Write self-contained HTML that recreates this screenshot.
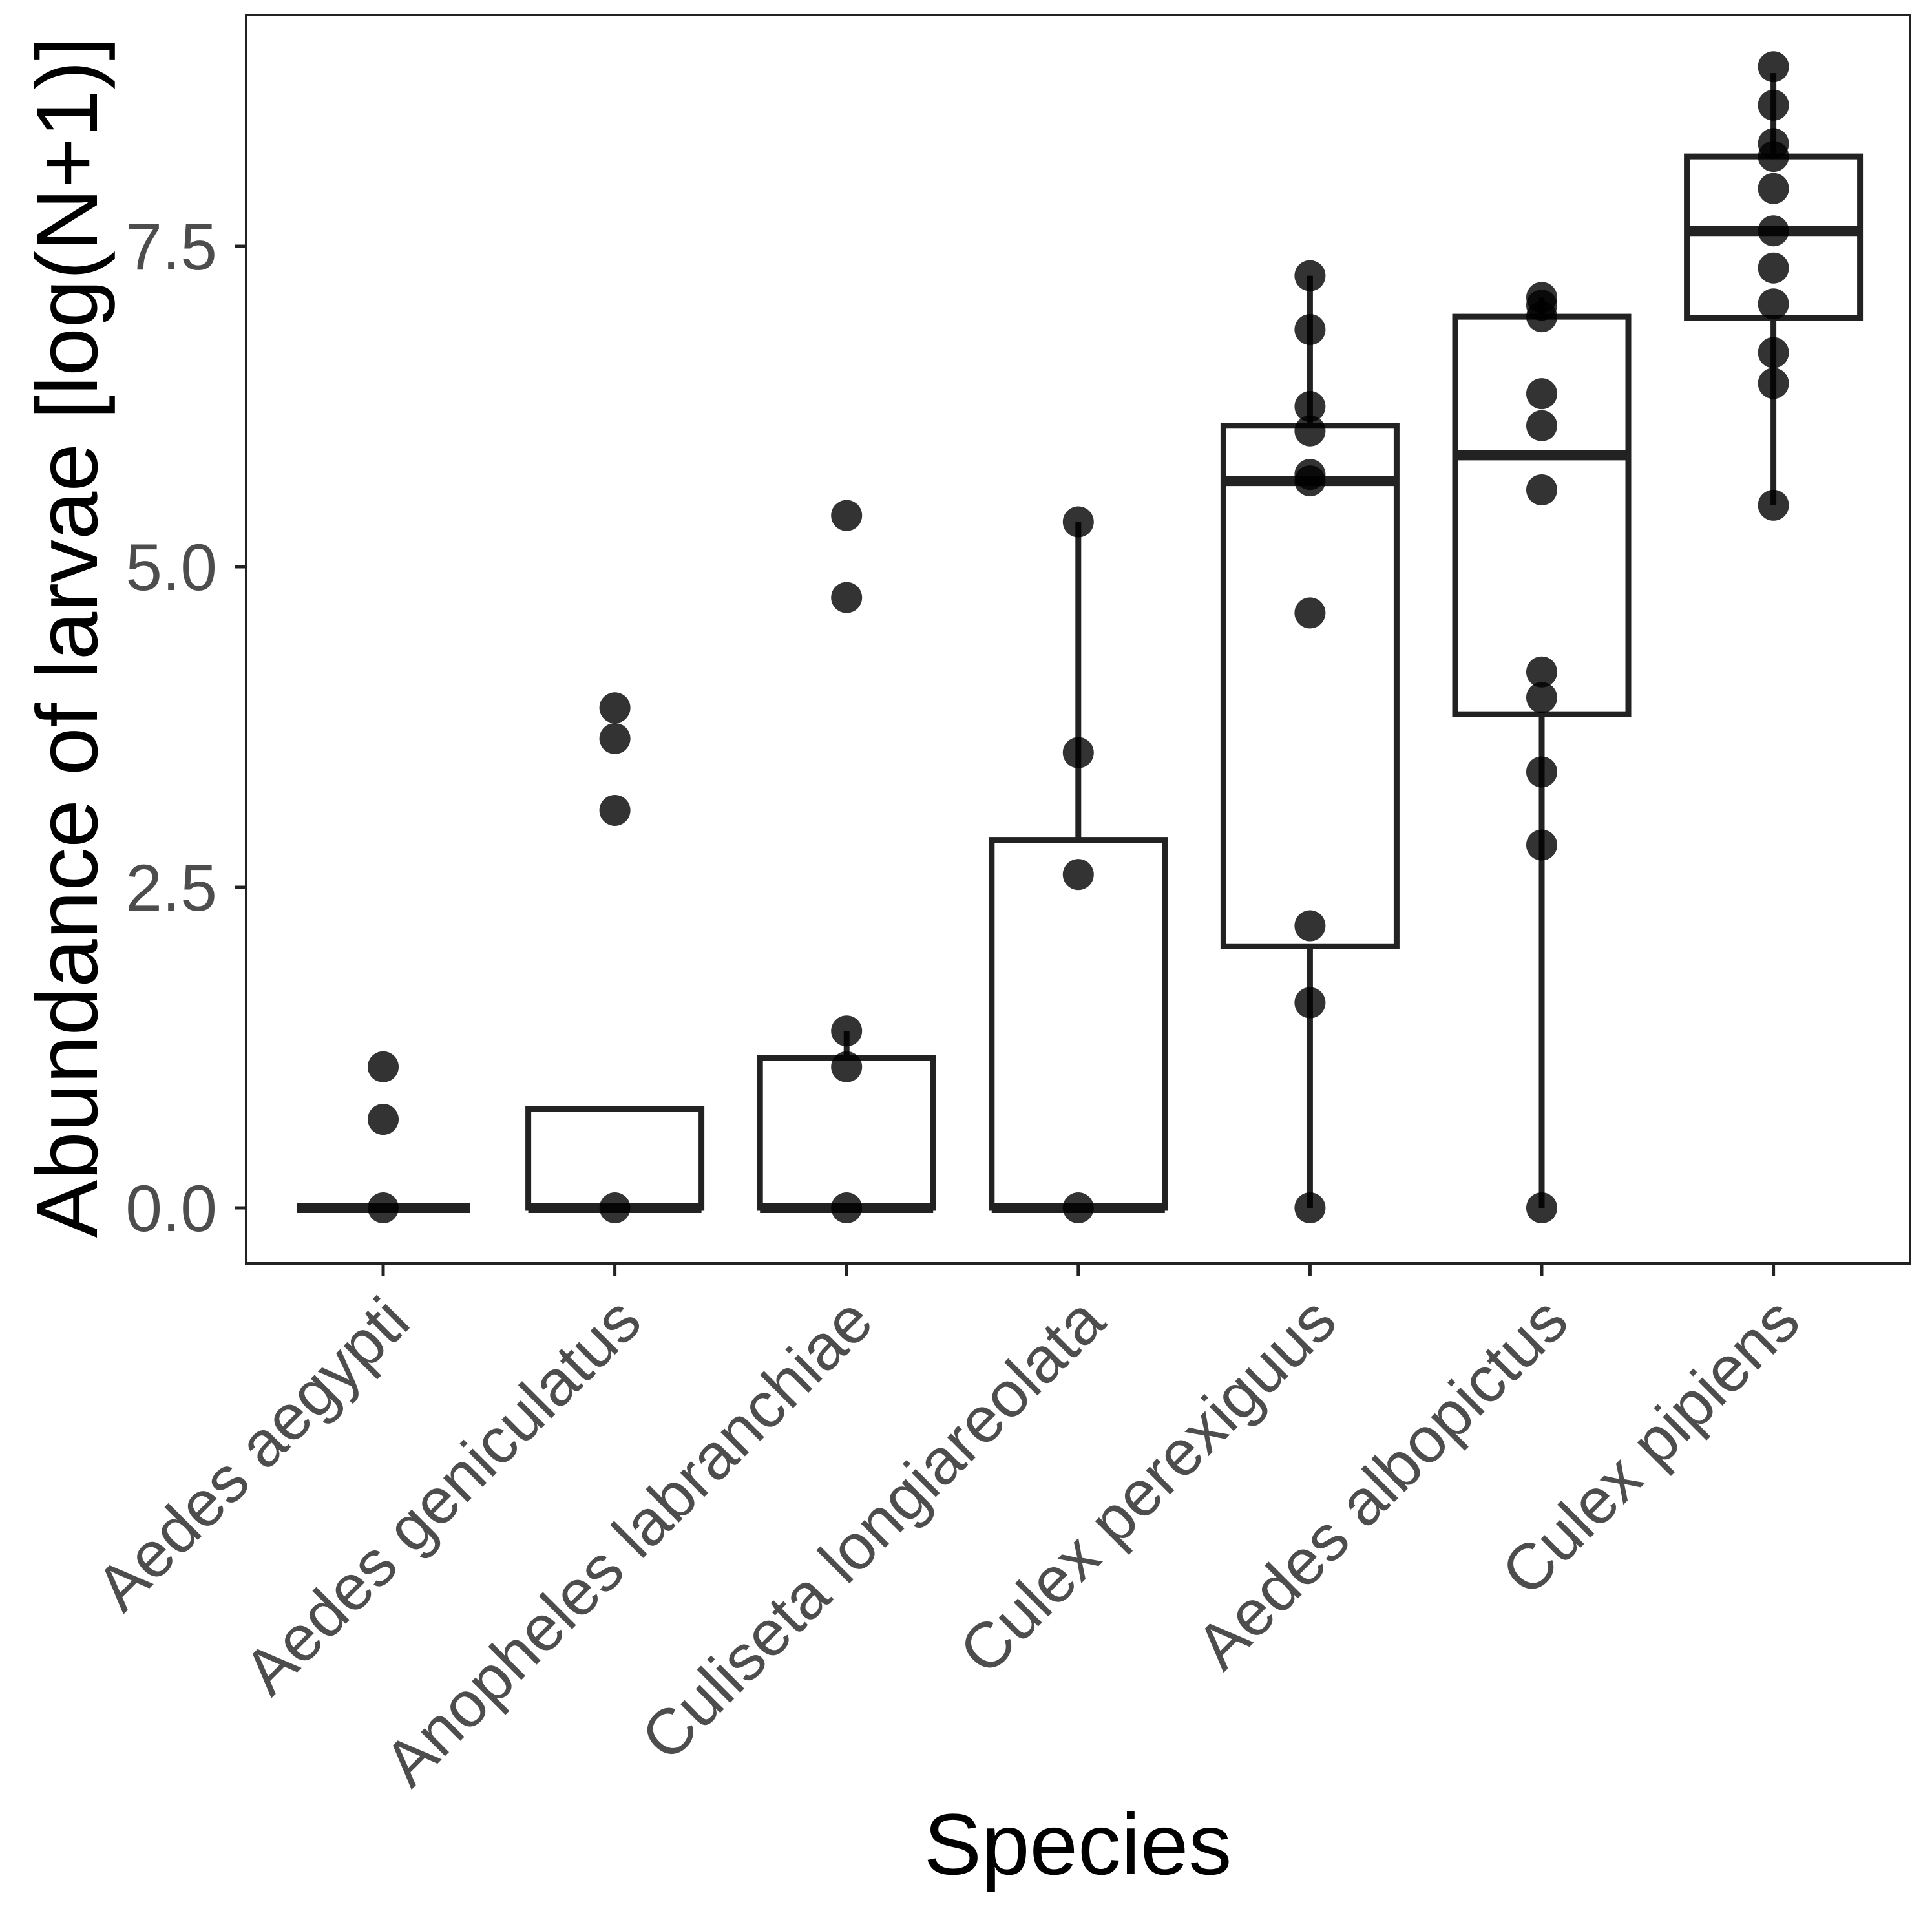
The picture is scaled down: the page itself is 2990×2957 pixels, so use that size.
<!DOCTYPE html>
<html><head><meta charset="utf-8"><style>
html,body{margin:0;padding:0;background:#fff}
svg{display:block}
text{font-family:"Liberation Sans",Arial,sans-serif}
</style></head><body>
<svg id="chart" width="2990" height="2957" viewBox="0 0 2990 2957">
<rect x="0" y="0" width="2990" height="2957" fill="#fff"/>
<g id="marks"></g>
<rect x="381" y="23" width="2575" height="1932" fill="none" stroke="#222" stroke-width="4"/>
<text x="0" y="0" transform="translate(150,986) rotate(-90)" text-anchor="middle" font-size="134" fill="#000">Abundance of larvae [log(N+1)]</text>
<text x="1668" y="2900" text-anchor="middle" font-size="134" fill="#000">Species</text>
</svg>
<script>
const categories = ["Aedes aegypti","Aedes geniculatus","Anopheles labranchiae","Culiseta longiareolata","Culex perexiguus","Aedes albopictus","Culex pipiens"];
const q1 = [0,0,0,0,2.04,3.85,6.94];
const medians = [0,0,0,0,5.67,5.87,7.62];
const q3 = [0,0.77,1.17,2.87,6.1,6.95,8.2];
const whiskerLow = [0,0,0,0,0,0,5.48];
const whiskerHigh = [0,0.77,1.38,5.35,7.27,7.1,8.85];
const points = [
 [0,0.69,1.1],
 [0,3.1,3.66,3.9],
 [0,1.1,1.38,4.76,5.4],
 [0,2.6,3.55,5.35],
 [0,1.6,2.2,4.64,5.67,5.72,6.06,6.25,6.85,7.27],
 [0,2.83,3.4,3.98,4.18,5.6,6.1,6.35,6.95,7.04,7.1],
 [5.48,6.43,6.67,7.05,7.33,7.62,7.95,8.2,8.3,8.6,8.9]
];
const yTicks = [0,2.5,5,7.5];
const yTickLabels = ["0.0","2.5","5.0","7.5"];

const NS="http://www.w3.org/2000/svg";
const g=document.getElementById('marks');
function yS(v){return 1869-(v/7.5)*(1869-381);}
function xS(i){return 593+i*358.6;}
function el(tag,attrs){const e=document.createElementNS(NS,tag);for(const k in attrs)e.setAttribute(k,attrs[k]);g.appendChild(e);return e;}
const halfW=134, sw=9, col="#222";
yTicks.forEach((t,i)=>{
 const l=el('line',{x1:363,x2:381,y1:yS(t),y2:yS(t),stroke:col,'stroke-width':5});
 
 
 const tx=el('text',{x:336,y:yS(t)+36,'text-anchor':'end','font-size':102,fill:'#4d4d4d'});
 tx.textContent=yTickLabels[i];
 
 
});
categories.forEach((c,i)=>{
 const x=xS(i);
 const wl=el('line',{x1:x,x2:x,y1:yS(whiskerLow[i]),y2:yS(q1[i]),stroke:col,'stroke-width':sw});
 
 
 const wh=el('line',{x1:x,x2:x,y1:yS(q3[i]),y2:yS(whiskerHigh[i]),stroke:col,'stroke-width':sw});
 
 
 const b=el('rect',{x:x-halfW,y:yS(q3[i]),width:2*halfW,height:Math.max(0,yS(q1[i])-yS(q3[i])),fill:'#fff',stroke:col,'stroke-width':sw});
 
 
 const m=el('line',{x1:x-halfW,x2:x+halfW,y1:yS(medians[i]),y2:yS(medians[i]),stroke:col,'stroke-width':16});
 
 
 points[i].forEach(v=>{
  const p=el('circle',{cx:x,cy:yS(v),r:24,fill:'#000','fill-opacity':0.8});
  
  
 });
 const t=el('line',{x1:x,x2:x,y1:1955,y2:1975,stroke:col,'stroke-width':5});
 
 
 const lbl=el('text',{x:0,y:0,transform:`translate(${x+46},${2050}) rotate(-45)`,'text-anchor':'end','font-size':100,fill:'#4d4d4d'});
 lbl.textContent=c;
 
 
});
</script>
</body></html>
